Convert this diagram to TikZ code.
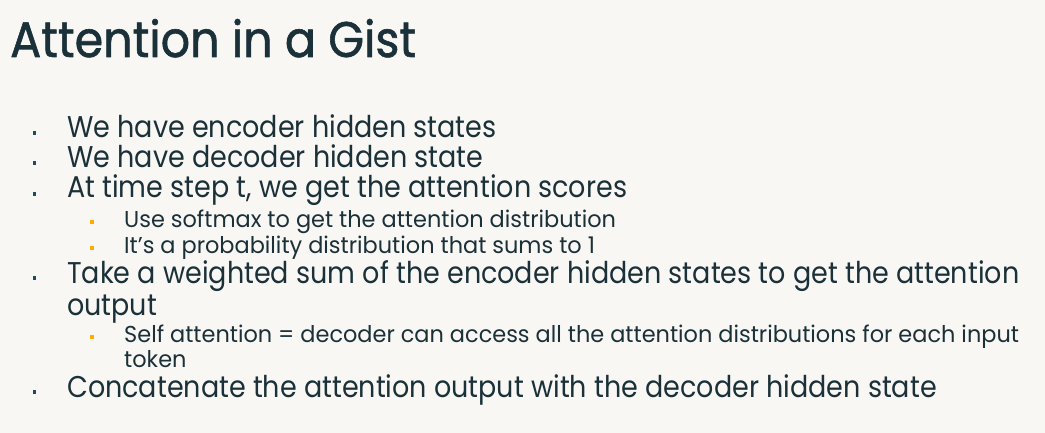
\documentclass[tikz,border=0pt]{standalone}
\usepackage{fontspec}
\setmainfont{Poppins}
\newfontfamily\titlefont{Poppins}[FakeStretch=0.92,FakeBold=1.2]
\newfontfamily\bodyfont{Poppins}[FakeStretch=0.90]
\newfontfamily\subfont{Poppins}[FakeStretch=0.975]
\definecolor{bg}{HTML}{F9F7F4}
\definecolor{ink}{HTML}{1B3139}
\definecolor{dot}{HTML}{1B4F5E}
\definecolor{org}{HTML}{FFAB00}
\begin{document}
\begin{tikzpicture}[x=1pt,y=-1pt,
  title/.style={anchor=base west,inner sep=0pt,text=ink,font=\titlefont\fontsize{50}{50}\selectfont},
  lvl1/.style={anchor=base west,inner sep=0pt,text=ink,font=\bodyfont\fontsize{30}{30}\selectfont},
  lvl2/.style={anchor=base west,inner sep=0pt,text=ink,font=\subfont\fontsize{23}{23}\selectfont},
  dotA/.style={fill=dot,minimum size=3.5pt,inner sep=0pt,draw=none},
  dotB/.style={fill=org,minimum size=3.5pt,inner sep=0pt,draw=none}]
\fill[bg] (0,0) rectangle (1045,433);
\useasboundingbox (0,0) rectangle (1045,433);
\node[title] (t) at (10,57) {Attention in a Gist};
\node[dotA] (d1) at (34.5,133) {};
\node[lvl1] (l1) at (67,138) {We have encoder hidden states};
\node[dotA] (d2) at (34.5,163) {};
\node[lvl1] (l2) at (67,168) {We have decoder hidden state};
\node[dotA] (d3) at (34.5,194) {};
\node[lvl1] (l3) at (67,198) {At time step t, we get the attention scores};
\node[dotB] (s1) at (92,222) {};
\node[lvl2] (m1) at (124,227) {Use softmax to get the attention distribution};
\node[dotB] (s2) at (92,248) {};
\node[lvl2] (m2) at (124,253) {It’s a probability distribution that sums to 1};
\node[dotA] (d4) at (34.5,278) {};
\node[lvl1] (l4) at (67,283) {Take a weighted sum of the encoder hidden states to get the attention};
\node[lvl1] (l4b) at (67,315) {output};
\node[dotB] (s3) at (92,337) {};
\node[lvl2] (m3) at (124,342) {Self attention = decoder can access all the attention distributions for each input};
\node[lvl2] (m3b) at (124,367) {token};
\node[dotA] (d5) at (34.5,392) {};
\node[lvl1] (l5) at (67,397) {Concatenate the attention output with the decoder hidden state};
\end{tikzpicture}
\end{document}
